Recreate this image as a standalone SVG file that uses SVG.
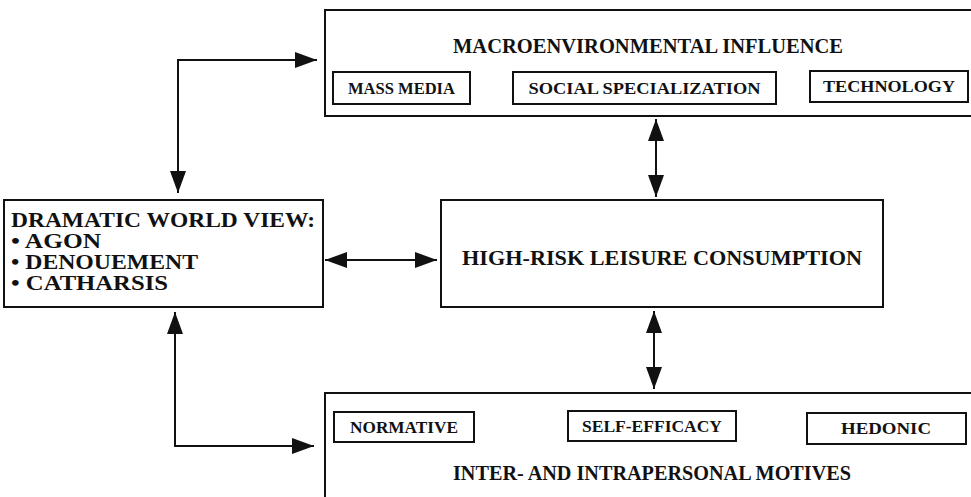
<svg xmlns="http://www.w3.org/2000/svg" width="971" height="497" viewBox="0 0 971 497">
<style>
.box{fill:none;stroke:#111;stroke-width:2}
.sub{fill:none;stroke:#111;stroke-width:2}
.t{font-family:"Liberation Serif","Times New Roman",Times,serif;font-weight:700;fill:#111}
.title{font-size:21px;text-anchor:middle}
.st{font-size:17px;text-anchor:middle}
.lt{font-size:20px}
.ln{fill:none;stroke:#111;stroke-width:2}
</style>
<defs>
<marker id="ah" viewBox="0 0 22 16" refX="22" refY="8" markerWidth="22" markerHeight="16" markerUnits="userSpaceOnUse" orient="auto-start-reverse">
<path d="M0,0 L22,8 L0,16 Z" fill="#111"/>
</marker>
</defs>
<rect width="971" height="497" fill="#fff"/>
<g id="macro">
<rect class="box" x="325" y="10" width="660" height="106"/>
<text class="t title" x="648" y="53" textLength="390" lengthAdjust="spacingAndGlyphs">MACROENVIRONMENTAL INFLUENCE</text>
<g id="massmedia"><rect class="sub" x="333" y="72" width="137" height="32"/><text class="t st" x="401.5" y="94" textLength="107" lengthAdjust="spacingAndGlyphs">MASS MEDIA</text></g>
<g id="social"><rect class="sub" x="513" y="72" width="263" height="32"/><text class="t st" x="644.5" y="94" textLength="232" lengthAdjust="spacingAndGlyphs">SOCIAL SPECIALIZATION</text></g>
<g id="technology"><rect class="sub" x="810" y="71" width="158" height="31"/><text class="t st" x="889" y="92" textLength="132" lengthAdjust="spacingAndGlyphs">TECHNOLOGY</text></g>
</g>
<g id="dramatic">
<rect class="box" x="4" y="200" width="319" height="107"/>
<text class="t lt" x="11" y="227" textLength="304" lengthAdjust="spacingAndGlyphs">DRAMATIC WORLD VIEW:</text>
<text class="t lt" x="11" y="248" textLength="90" lengthAdjust="spacingAndGlyphs">• AGON</text>
<text class="t lt" x="11" y="269" textLength="187" lengthAdjust="spacingAndGlyphs">• DENOUEMENT</text>
<text class="t lt" x="11" y="290" textLength="157" lengthAdjust="spacingAndGlyphs">• CATHARSIS</text>
</g>
<g id="highrisk">
<rect class="box" x="441" y="200" width="442" height="107"/>
<text class="t title" x="662" y="265" textLength="400" lengthAdjust="spacingAndGlyphs">HIGH-RISK LEISURE CONSUMPTION</text>
</g>
<g id="motives">
<rect class="box" x="325" y="393" width="660" height="120"/>
<g id="normative"><rect class="sub" x="334" y="412" width="140" height="30"/><text class="t st" x="404" y="433" textLength="108" lengthAdjust="spacingAndGlyphs">NORMATIVE</text></g>
<g id="selfefficacy"><rect class="sub" x="568" y="411" width="168" height="30"/><text class="t st" x="652" y="432" textLength="140" lengthAdjust="spacingAndGlyphs">SELF-EFFICACY</text></g>
<g id="hedonic"><rect class="sub" x="807" y="413" width="159" height="31"/><text class="t st" x="886" y="434" textLength="90" lengthAdjust="spacingAndGlyphs">HEDONIC</text></g>
<text class="t title" x="652" y="480" textLength="398" lengthAdjust="spacingAndGlyphs">INTER- AND INTRAPERSONAL MOTIVES</text>
</g>
<g id="connectors">
<path class="ln" d="M656,119 L656,197" marker-start="url(#ah)" marker-end="url(#ah)"/>
<path class="ln" d="M654,311 L654,389" marker-start="url(#ah)" marker-end="url(#ah)"/>
<path class="ln" d="M325,260 L437,260" marker-start="url(#ah)" marker-end="url(#ah)"/>
<path class="ln" d="M178,193 L178,60 L317,60" marker-start="url(#ah)" marker-end="url(#ah)"/>
<path class="ln" d="M175,312 L175,446 L314,446" marker-start="url(#ah)" marker-end="url(#ah)"/>
</g>
</svg>
